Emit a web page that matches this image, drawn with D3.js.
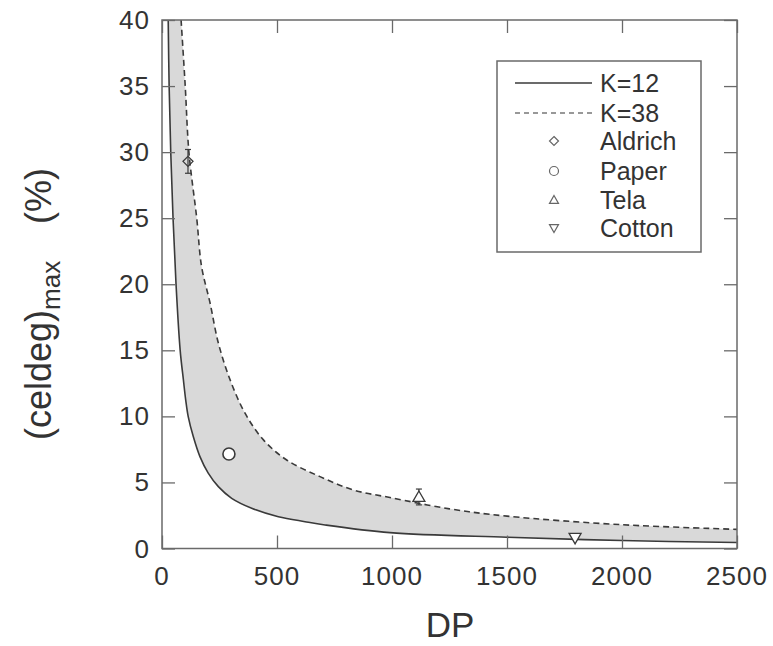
<!DOCTYPE html>
<html>
<head>
<meta charset="utf-8">
<script src="https://cdn.jsdelivr.net/npm/d3@7"></script>
<style>
  body { margin: 0; background: #fff; }
  text { font-family: "Liberation Sans", Arial, sans-serif; fill: #333; }
</style>
</head>
<body>
<svg id="chart" width="773" height="646"></svg>
<script>
// ---- data ----
const xTicks = [0, 500, 1000, 1500, 2000, 2500];
const yTicks = [0, 5, 10, 15, 20, 25, 30, 35, 40];

const dpK12  = [27, 31, 38, 48, 61, 79, 93, 103, 114, 136, 165, 201, 245, 303, 390, 506, 622, 709, 991, 1500, 2000, 2500];
const celK12 = [40, 35, 30, 25, 20.0, 15.0, 12.77, 11.25, 9.98, 8.47, 6.95, 5.7, 4.68, 3.8, 3.05, 2.41, 2.03, 1.78, 1.2, 0.85, 0.6, 0.45];

const dpK38  = [83, 101, 117, 151, 172, 209, 245, 296, 361, 441, 542, 687, 832, 991, 1250, 1500, 2000, 2500];
const celK38 = [40, 35, 30, 25, 21.35, 18.58, 15.55, 12.77, 10.24, 8.22, 6.7, 5.44, 4.43, 3.86, 3.0, 2.45, 1.8, 1.45];

const sampleNames = ["Aldrich", "Paper", "Tela", "Cotton"];
const sampleDP    = [113, 291, 1117, 1796];
const sampleCel   = [29.3, 7.15, 3.9, 0.8];
const sampleErr   = [0.9, 0, 0.6, 0];
const sampleShape = ["diamond", "circle", "up", "down"];

const legendLabels = ["K=12", "K=38"];

// ---- layout ----
const svg = d3.select("#chart");
const L = 162, R = 737, T = 20, B = 548.5;
const x = d3.scaleLinear().domain([0, 2500]).range([L, R]);
const y = d3.scaleLinear().domain([0, 40]).range([B, T]);
const ink = "#3a3a3a";
const frame = "#6a6a6a";

svg.append("defs").append("clipPath").attr("id", "plotclip")
  .append("rect").attr("x", L).attr("y", T).attr("width", R - L).attr("height", B - T);

const plot = svg.append("g").attr("clip-path", "url(#plotclip)");

const k12 = dpK12.map((d, i) => [d, celK12[i]]);
const k38 = dpK38.map((d, i) => [d, celK38[i]]);

const smooth = d3.line().x(d => x(d[0])).y(d => y(d[1])).curve(d3.curveCatmullRom);

// shaded band between the two curves
plot.append("path")
  .attr("d", smooth(k12) + smooth(k38.slice().reverse()).replace(/^M/, "L") + "Z")
  .attr("fill", "#d9d9d9")
  .attr("stroke", "none");

plot.append("path").attr("d", smooth(k12))
  .attr("fill", "none").attr("stroke", ink).attr("stroke-width", 1.6);
plot.append("path").attr("d", smooth(k38))
  .attr("fill", "none").attr("stroke", ink).attr("stroke-width", 1.6)
  .attr("stroke-dasharray", "6,4");

// ---- frame and ticks (inward, all four sides) ----
const axes = svg.append("g");
axes.append("rect").attr("x", L).attr("y", T).attr("width", R - L).attr("height", B - T)
  .attr("fill", "none").attr("stroke", frame).attr("stroke-width", 1.5);

const tickLen = 13;
const xAxisB = d3.axisBottom(x).tickValues(xTicks).tickSize(-tickLen).tickFormat("").tickSizeOuter(0);
const xAxisT = d3.axisTop(x).tickValues(xTicks).tickSize(-tickLen).tickFormat("").tickSizeOuter(0);
const yAxisL = d3.axisLeft(y).tickValues(yTicks).tickSize(-tickLen).tickFormat("").tickSizeOuter(0);
const yAxisR = d3.axisRight(y).tickValues(yTicks).tickSize(-tickLen).tickFormat("").tickSizeOuter(0);
[[xAxisB, `translate(0,${B})`], [xAxisT, `translate(0,${T})`],
 [yAxisL, `translate(${L},0)`], [yAxisR, `translate(${R},0)`]].forEach(([ax, tr]) => {
  const g = axes.append("g").attr("transform", tr).call(ax);
  g.select(".domain").remove();
  g.selectAll("line").attr("stroke", frame).attr("stroke-width", 1.3);
});

// tick labels
svg.append("g").selectAll("text").data(xTicks).join("text")
  .attr("x", d => x(d)).attr("y", 585)
  .attr("text-anchor", "middle")
  .attr("font-size", 26).attr("letter-spacing", 1)
  .text(d => d);
svg.append("g").selectAll("text").data(yTicks).join("text")
  .attr("x", 150).attr("y", d => y(d) + 9)
  .attr("text-anchor", "end")
  .attr("font-size", 26).attr("letter-spacing", 1)
  .text(d => d);

// axis titles
svg.append("text").attr("x", 450).attr("y", 637).attr("text-anchor", "middle")
  .attr("font-size", 35).text("DP");

const yt = svg.append("text").attr("transform", "translate(51,440) rotate(-90)")
  .attr("font-size", 36);
yt.append("tspan").text("(celdeg)");
yt.append("tspan").attr("font-size", 26).attr("dy", 9).text("max");
svg.append("text").attr("transform", "translate(51,196) rotate(-90)")
  .attr("text-anchor", "middle").attr("font-size", 36).text("(%)");

// ---- samples ----
function symbolPath(shape, s) {
  if (shape === "diamond") return `M0,${-s}L${s},0L0,${s}L${-s},0Z`;
  if (shape === "up") return `M0,${-s}L${s},${s * 0.75}L${-s},${s * 0.75}Z`;
  if (shape === "down") return `M0,${s}L${s},${-s * 0.75}L${-s},${-s * 0.75}Z`;
  return null;
}
const pts = svg.append("g");
sampleNames.forEach((n, i) => {
  const cx = x(sampleDP[i]), cy = y(sampleCel[i]);
  if (sampleErr[i] > 0) {
    const y1 = y(sampleCel[i] + sampleErr[i]), y2 = y(sampleCel[i] - sampleErr[i]);
    pts.append("line").attr("x1", cx).attr("x2", cx).attr("y1", y1).attr("y2", y2)
      .attr("stroke", ink).attr("stroke-width", 1.2);
    [y1, y2].forEach(yy => pts.append("line").attr("x1", cx - 3).attr("x2", cx + 3)
      .attr("y1", yy).attr("y2", yy).attr("stroke", ink).attr("stroke-width", 1.2));
  }
  const g = pts.append("g").attr("transform", `translate(${cx},${cy})`);
  if (sampleShape[i] === "circle") {
    g.append("circle").attr("r", 6).attr("fill", "#fff").attr("stroke", ink).attr("stroke-width", 1.6);
  } else {
    g.append("path").attr("d", symbolPath(sampleShape[i], sampleShape[i] === "diamond" ? 5 : 6))
      .attr("fill", "#fff").attr("fill-opacity", sampleShape[i] === "diamond" ? 0 : 1)
      .attr("stroke", ink).attr("stroke-width", 1.3);
  }
});

// ---- legend ----
const lg = svg.append("g");
lg.append("rect").attr("x", 497).attr("y", 61).attr("width", 204).attr("height", 191)
  .attr("fill", "#fff").attr("stroke", frame).attr("stroke-width", 1.5);
const rowY = [83, 113, 141, 171, 200, 228];
const labels = legendLabels.concat(sampleNames);
labels.forEach((t, i) => {
  const yy = rowY[i];
  if (i < 2) {
    lg.append("line").attr("x1", 515).attr("x2", 592).attr("y1", yy).attr("y2", yy)
      .attr("stroke", i === 0 ? ink : "#777").attr("stroke-width", 1.3)
      .attr("stroke-dasharray", i === 0 ? null : "5,4");
  } else {
    const shape = sampleShape[i - 2];
    const g = lg.append("g").attr("transform", `translate(554,${yy})`);
    if (shape === "circle") {
      g.append("circle").attr("r", 4.5).attr("fill", "none").attr("stroke", "#666").attr("stroke-width", 1.2);
    } else {
      g.append("path").attr("d", symbolPath(shape, 4.5)).attr("fill", "none")
        .attr("stroke", "#666").attr("stroke-width", 1.2);
    }
  }
  lg.append("text").attr("x", 600).attr("y", yy + 9).attr("font-size", 25).text(t);
});
</script>
</body>
</html>
